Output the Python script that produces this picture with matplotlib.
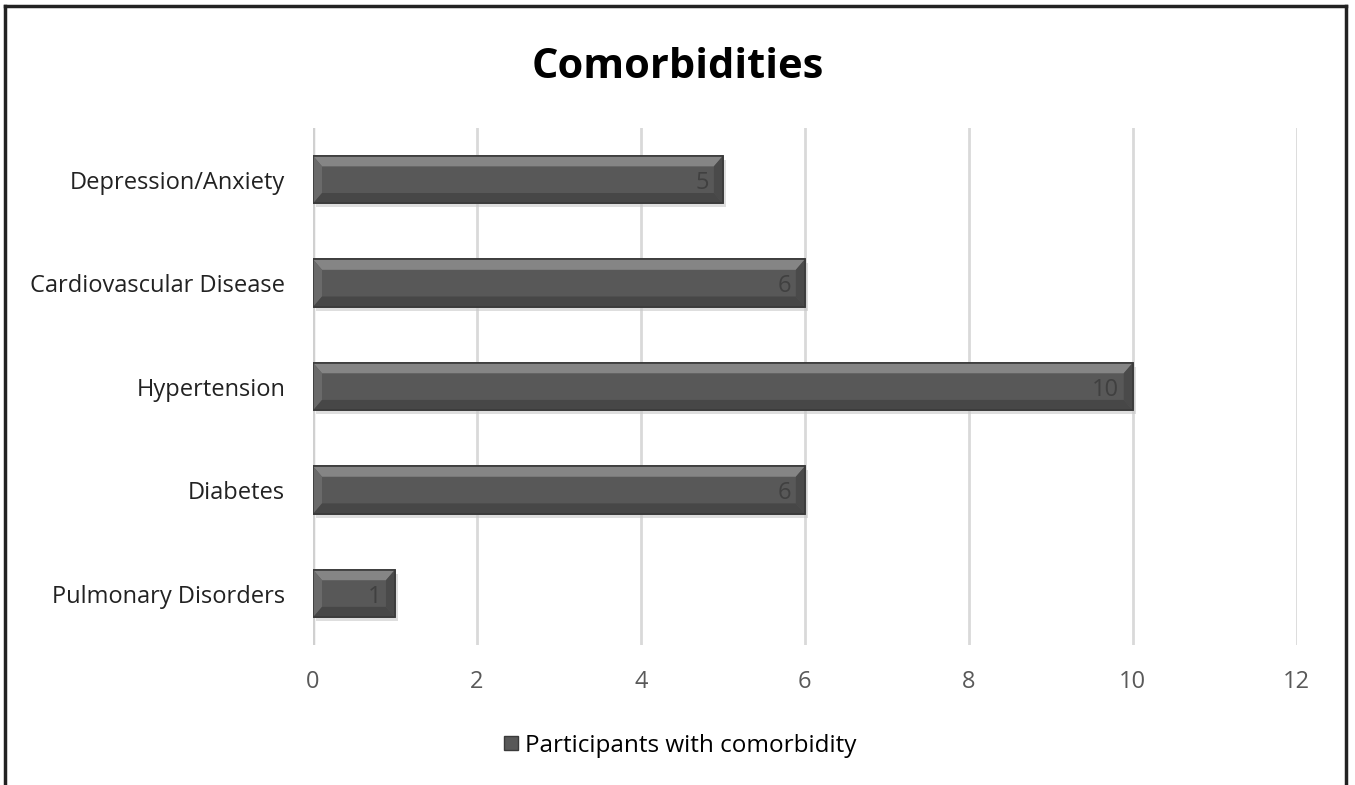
import matplotlib.pyplot as plt
from matplotlib.patches import Polygon, Rectangle
from matplotlib.lines import Line2D
import matplotlib.transforms as mtransforms

categories = ["Pulmonary Disorders", "Diabetes", "Hypertension",
              "Cardiovascular Disease", "Depression/Anxiety"]
values = [1, 6, 10, 6, 5]
series_name = "Participants with comorbidity"
x_ticks = [0, 2, 4, 6, 8, 10, 12]

plt.rcParams['font.family'] = ['Open Sans', 'DejaVu Sans']

fig = plt.figure(figsize=(13.55, 7.85), dpi=100)
ax = fig.add_axes([0.231, 0.178, 0.726, 0.659])

bar_h = 0.46
ypos = list(range(len(categories)))

# soft shadow
shadow = mtransforms.offset_copy(ax.transData, fig=fig, x=3, y=-4, units='dots')
ax.barh(ypos, values, height=bar_h, color='#c8c8c8', alpha=0.6,
        transform=shadow, zorder=2)
bars = ax.barh(ypos, values, height=bar_h, color='#585858',
               edgecolor='#3a3a3a', linewidth=1.2, zorder=3)

# bevel highlights, sized from each bar
for b in bars:
    x0, y0 = b.get_x(), b.get_y()
    w, h = b.get_width(), b.get_height()
    bev_x = 0.11 if w > 0.5 else w * 0.2
    bev_y = h * 0.22
    top = Polygon([(x0, y0 + h), (x0 + w, y0 + h), (x0 + w - bev_x, y0 + h - bev_y),
                   (x0 + bev_x, y0 + h - bev_y)], closed=True,
                  facecolor='#858585', edgecolor='none', zorder=4)
    left = Polygon([(x0, y0), (x0, y0 + h), (x0 + bev_x, y0 + h - bev_y),
                    (x0 + bev_x, y0 + bev_y)], closed=True,
                   facecolor='#6a6a6a', edgecolor='none', zorder=4)
    right = Polygon([(x0 + w, y0), (x0 + w, y0 + h), (x0 + w - bev_x, y0 + h - bev_y),
                     (x0 + w - bev_x, y0 + bev_y)], closed=True,
                    facecolor='#4a4a4a', edgecolor='none', zorder=4)
    bottom = Polygon([(x0, y0), (x0 + w, y0), (x0 + w - bev_x, y0 + bev_y),
                      (x0 + bev_x, y0 + bev_y)], closed=True,
                     facecolor='#474747', edgecolor='none', zorder=4)
    for p in (top, left, right, bottom):
        ax.add_patch(p)
    ax.add_patch(Rectangle((x0, y0), w, h, fill=False, edgecolor='#3a3a3a',
                           linewidth=1.2, zorder=5))

for y, v in zip(ypos, values):
    ax.text(v - 0.17, y, str(v), ha='right', va='center_baseline', fontsize=17,
            color='#404040', zorder=6)

ax.set_xlim(0, 12)
ax.set_ylim(-0.5, len(categories) - 0.5)
ax.set_xticks(x_ticks)
ax.set_xticklabels([str(t) for t in x_ticks], fontsize=17, color='#595959')
ax.set_yticks(ypos)
ax.set_yticklabels(categories, fontsize=17, color='#222222')
ax.tick_params(axis='both', length=0)
ax.tick_params(axis='x', pad=18)
ax.tick_params(axis='y', pad=20)
ax.grid(axis='x', color='#d9d9d9', linewidth=2, zorder=0)
ax.set_axisbelow(True)
for s in ax.spines.values():
    s.set_visible(False)
ax.axvline(0, color='#d0d0d0', linewidth=2.5, zorder=1)

fig.text(0.5, 0.914, "Comorbidities", ha='center', va='center',
         fontsize=30, fontweight='bold', color='black')

handle = Line2D([], [], marker='s', linestyle='none', markersize=10,
                markerfacecolor='#585858', markeredgecolor='#3a3a3a')
fig.legend([handle], [series_name], loc='center', bbox_to_anchor=(0.5, 0.05),
           frameon=False, fontsize=17.5, handletextpad=0.1, handlelength=1)

# outer border (left, top, right)
fig.add_artist(Line2D([0.004, 0.004], [0, 0.992], transform=fig.transFigure,
                      color='#222222', linewidth=2.5))
fig.add_artist(Line2D([0.004, 0.993], [0.992, 0.992], transform=fig.transFigure,
                      color='#222222', linewidth=2.5))
fig.add_artist(Line2D([0.993, 0.993], [0, 0.992], transform=fig.transFigure,
                      color='#222222', linewidth=2.5))

fig.savefig("out.png", dpi=100)
